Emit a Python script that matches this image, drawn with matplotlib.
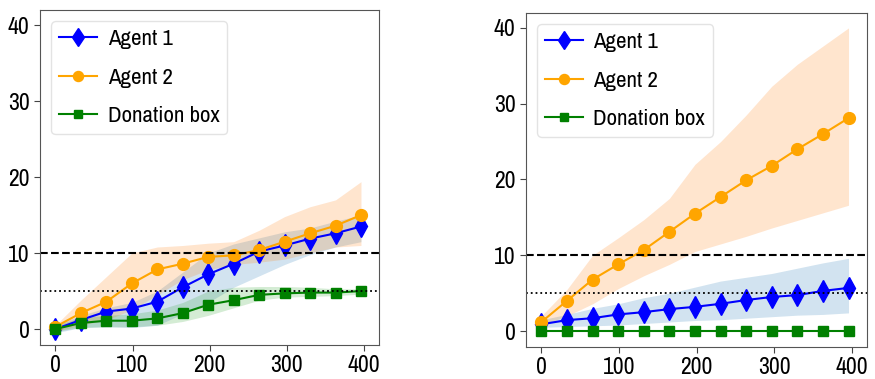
import numpy as np
import matplotlib
matplotlib.use("Agg")
import matplotlib.pyplot as plt
from matplotlib import font_manager

# narrow sans font, first one installed
names = {f.name for f in font_manager.fontManager.ttflist}
cands = ["Liberation Sans Narrow", "Arial Narrow", "Archivo Narrow", "PT Sans Narrow",
         "Roboto Condensed", "Fira Sans Condensed", "Liberation Sans"]
fam = [c for c in cands if c in names][0]
plt.rcParams["font.family"] = [fam, "DejaVu Sans"]

steps = [0, 33, 66, 99, 132, 165, 198, 231, 264, 297, 330, 363, 396]

# left panel
l_agent1 = [0.0, 1.2, 2.3, 2.7, 3.6, 5.5, 7.2, 8.6, 10.2, 11.0, 11.9, 12.6, 13.5]
l_agent1_lo = [-0.5, 0.2, 0.3, 0.2, 0.5, 2.0, 3.5, 5.5, 7.0, 8.5, 9.8, 10.8, 11.5]
l_agent1_hi = [0.5, 1.8, 2.8, 3.5, 5.0, 7.5, 10.0, 11.2, 12.0, 12.8, 13.3, 14.2, 15.0]
l_agent2 = [0.3, 2.1, 3.6, 6.0, 7.85, 8.6, 9.5, 9.7, 10.4, 11.5, 12.6, 13.6, 15.0]
l_agent2_lo = [-0.3, 0.5, 1.2, 2.5, 4.5, 6.5, 7.8, 8.5, 8.8, 9.2, 10.0, 10.8, 11.0]
l_agent2_hi = [0.5, 3.8, 6.9, 10.0, 10.8, 11.0, 11.3, 11.5, 13.0, 14.8, 16.1, 17.0, 19.4]
l_box = [0.0, 0.8, 1.1, 1.1, 1.4, 2.1, 3.2, 3.8, 4.5, 4.7, 4.8, 4.8, 5.0]
l_box_lo = [-0.3, 0.2, 0.3, 0.3, 0.5, 1.0, 1.8, 2.8, 3.8, 4.2, 4.3, 4.4, 4.6]
l_box_hi = [0.5, 1.5, 1.8, 2.0, 2.5, 3.5, 5.0, 5.5, 5.6, 5.6, 5.5, 5.3, 5.3]

# right panel
r_agent1 = [0.9, 1.45, 1.7, 2.2, 2.5, 2.9, 3.2, 3.6, 4.1, 4.5, 4.75, 5.3, 5.7]
r_agent1_lo = [0.5, 0.6, 0.7, 0.8, 1.0, 1.2, 1.4, 1.5, 1.7, 1.9, 2.1, 2.2, 2.4]
r_agent1_hi = [1.5, 2.2, 3.0, 3.6, 4.4, 5.0, 5.8, 6.6, 7.1, 7.6, 8.3, 9.0, 9.6]
r_agent2 = [1.2, 4.0, 6.8, 8.8, 10.7, 13.1, 15.5, 17.7, 19.9, 21.8, 24.0, 26.0, 28.1]
r_agent2_lo = [0.8, 2.0, 3.6, 5.6, 7.3, 8.8, 10.5, 11.5, 12.5, 13.6, 14.6, 15.6, 16.6]
r_agent2_hi = [2.0, 5.5, 10.0, 12.3, 14.7, 17.5, 22.0, 25.0, 28.5, 32.3, 35.2, 37.6, 40.0]
r_box = [0.0, 0.0, 0.0, 0.0, 0.0, 0.0, 0.0, 0.0, 0.0, 0.0, 0.0, 0.0, 0.0]

fig = plt.figure(figsize=(8.75, 3.79), dpi=100)
ax1 = fig.add_axes([0.0457, 0.0897, 0.388, 0.884])
ax2 = fig.add_axes([0.601, 0.0844, 0.390, 0.882])


def panel(ax, a1, a1lo, a1hi, a2, a2lo, a2hi, box, boxlo=None, boxhi=None):
    ax.fill_between(steps, a1lo, a1hi, color="#1f77b4", alpha=0.2, lw=0)
    ax.fill_between(steps, a2lo, a2hi, color="#ff7f0e", alpha=0.2, lw=0)
    if boxlo is not None:
        ax.fill_between(steps, boxlo, boxhi, color="#2ca02c", alpha=0.2, lw=0)
    ax.plot(steps, a1, color="blue", marker="d", markersize=11, lw=1.5, label="Agent 1")
    ax.plot(steps, a2, color="orange", marker="o", markersize=8.5, lw=1.5, label="Agent 2")
    ax.plot(steps, box, color="green", marker="s", markersize=7.5, lw=1.5, label="Donation box")
    ax.axhline(10, color="black", ls="--", lw=1.5)
    ax.axhline(5, color="black", ls=":", lw=1.3)
    ax.set_xlim(-20, 420)
    ax.set_ylim(-2.1, 42)
    ax.set_xticks([0, 100, 200, 300, 400])
    ax.set_yticks([0, 10, 20, 30, 40])
    ax.tick_params(labelsize=17, length=4, color="#444444")
    for s in ax.spines.values():
        s.set_color("#555555")
    leg = ax.legend(loc="upper left", fontsize=16.5, handlelength=1.65, borderaxespad=0.5,
                    borderpad=0.35, labelspacing=0.8, handletextpad=0.45, markerscale=0.85)
    leg.get_frame().set_edgecolor("#dddddd")


panel(ax1, l_agent1, l_agent1_lo, l_agent1_hi, l_agent2, l_agent2_lo, l_agent2_hi,
      l_box, l_box_lo, l_box_hi)
panel(ax2, r_agent1, r_agent1_lo, r_agent1_hi, r_agent2, r_agent2_lo, r_agent2_hi,
      r_box)

fig.savefig("out.png", dpi=100)
